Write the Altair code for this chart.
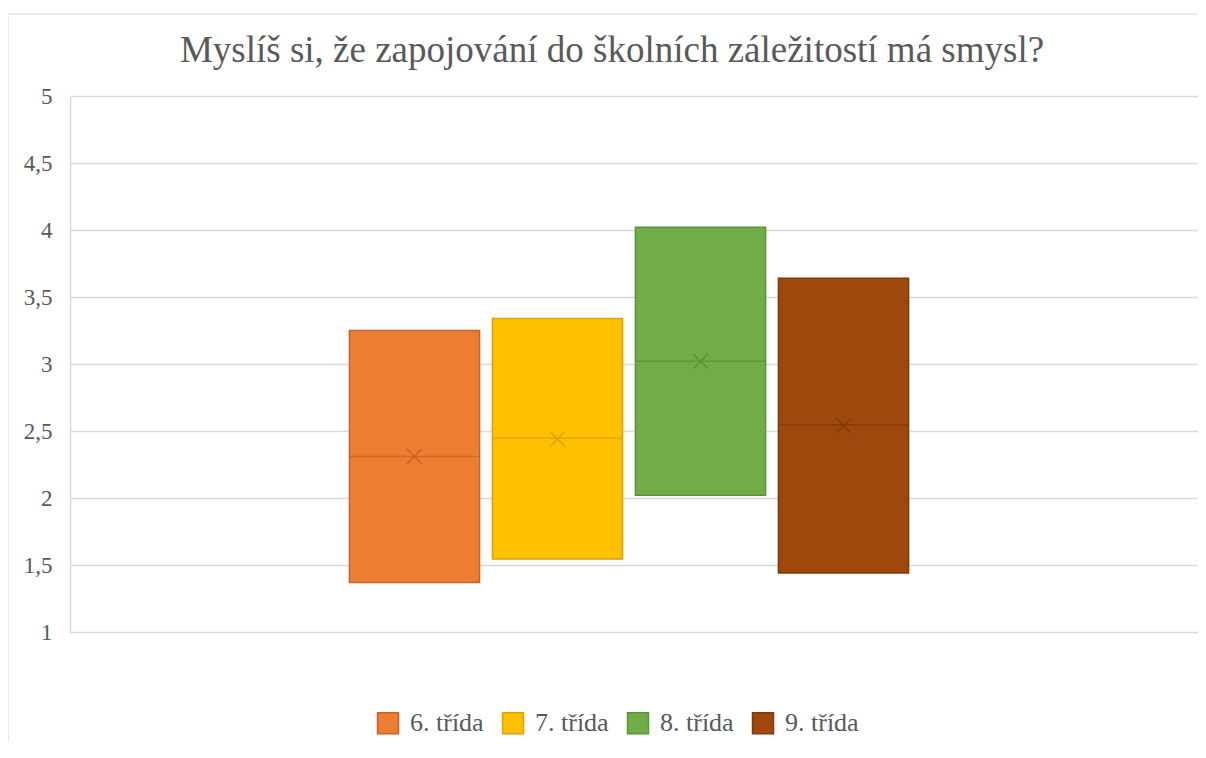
import altair as alt
import pandas as pd

categories = ["6. třída", "7. třída", "8. třída", "9. třída"]
low = [1.37, 1.545, 2.02, 1.44]
high = [3.25, 3.34, 4.02, 3.64]
median = [2.31, 2.445, 3.02, 2.545]
mean = [2.31, 2.44, 3.02, 2.54]
fills = ["#ED7D31", "#FFC000", "#70AD47", "#9E480E"]
darks = ["#C8622A", "#D9A300", "#5A9238", "#7F3A0B"]
title = "Myslíš si, že zapojování do školních záležitostí má smysl?"

df = pd.DataFrame({
    "grp": [""] * 4,
    "series": categories,
    "low": low,
    "high": high,
    "median": median,
    "mean": mean,
})
one = pd.DataFrame({"t": [title]})

font = "'Liberation Serif', 'Times New Roman', serif"
grey = "#595959"

x = alt.X("grp:N", axis=None,
          scale=alt.Scale(paddingInner=0, paddingOuter=0.486, align=0.491))
xo = alt.XOffset("series:N", sort=categories,
                 scale=alt.Scale(paddingInner=0.09, paddingOuter=0.045))
yscale = alt.Scale(domain=[1, 5], nice=False, zero=False)
fill = alt.Fill("series:N", sort=categories,
                scale=alt.Scale(domain=categories, range=fills),
                legend=alt.Legend(title=None, orient="none", direction="horizontal",
                                  legendX=305, legendY=614,
                                  symbolType="square", symbolSize=441,
                                  symbolStrokeWidth=1.5,
                                  labelFont=font, labelFontSize=26, labelColor=grey,
                                  labelOffset=9, columnPadding=15))
stroke = alt.Stroke("series:N", sort=categories,
                    scale=alt.Scale(domain=categories, range=darks),
                    legend=None)

base = alt.Chart(df)

boxes = base.mark_bar(strokeWidth=1.5).encode(
    x=x, xOffset=xo,
    y=alt.Y("low:Q", scale=yscale, title=None,
            axis=alt.Axis(values=[1, 1.5, 2, 2.5, 3, 3.5, 4, 4.5, 5],
                          labelExpr="replace(toString(datum.value), '.', ',')",
                          labelFont=font, labelFontSize=23, labelColor=grey,
                          labelPadding=18, ticks=False, domain=True,
                          domainColor="#D9D9D9", domainWidth=1.5,
                          gridColor="#D9D9D9", gridWidth=1.5)),
    y2="high:Q",
    fill=fill, stroke=stroke,
)

med = base.mark_bar(strokeWidth=1.5, fillOpacity=0, strokeOpacity=0.8).encode(
    x=x, xOffset=xo,
    y=alt.Y("median:Q", scale=yscale),
    y2="median:Q",
    stroke=stroke,
)

avg = base.mark_point(shape="M-1,-1L1,1M-1,1L1,-1", size=220, strokeWidth=1.5,
                      filled=False, opacity=0.9).encode(
    x=x, xOffset=xo,
    y=alt.Y("mean:Q", scale=yscale),
    stroke=stroke,
)

border = alt.Chart(one).mark_rect(fill=None, stroke="#D9D9D9", strokeWidth=1).encode(
    x=alt.value(-62), x2=alt.value(1400), y=alt.value(-82), y2=alt.value(1000)
)

title_text = alt.Chart(one).mark_text(
    font=font, fontSize=37, color=grey, align="center", baseline="alphabetic"
).encode(text="t:N", x=alt.value(542), y=alt.value(-34))

chart = alt.layer(border, boxes, med, avg, title_text).properties(
    width=1128, height=536,
    autosize=alt.AutoSizeParams(type="none"),
    padding={"left": 62, "top": 88, "right": 0, "bottom": 110},
).configure_view(stroke=None)

chart.save("out.html", embed_options={"renderer": "svg", "actions": False})
